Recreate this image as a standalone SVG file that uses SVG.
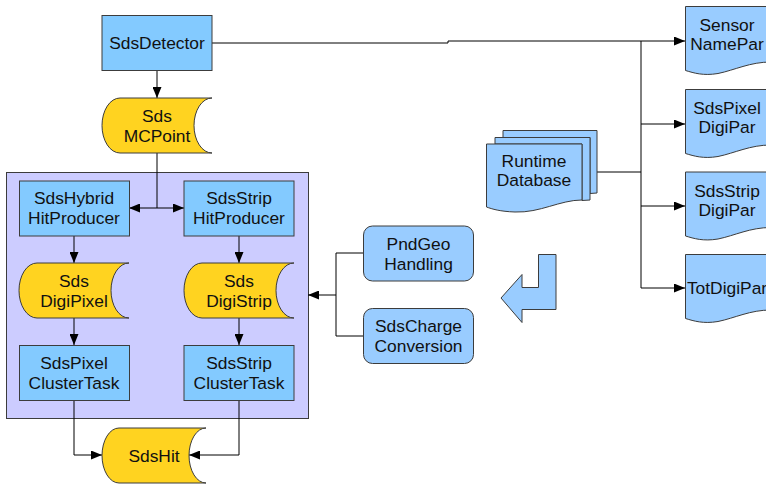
<svg xmlns="http://www.w3.org/2000/svg" width="766" height="484" viewBox="0 0 766 484">
<style>
.proc{fill:#83caff;stroke:#3c3c3c;stroke-width:1}
.data{fill:#ffd320;stroke:#3c3c3c;stroke-width:1}
.doc{fill:#99ccff;stroke:#3c3c3c;stroke-width:1}
.grp{fill:#ccccff;stroke:#3c3c3c;stroke-width:1}
.t{font-family:"Liberation Sans",Arial,sans-serif;font-size:17.4px;fill:#111;text-anchor:middle}
.c{fill:none;stroke:#000;stroke-width:1}
.a{marker-end:url(#arr)}
</style>
<defs>
<marker id="arr" markerUnits="userSpaceOnUse" markerWidth="11" markerHeight="9" refX="11" refY="4.5" orient="auto">
<path d="M0,0 L11,4.5 L0,9 Z" fill="#000"/>
</marker>
</defs>
<rect width="766" height="484" fill="#fff"/>
<g id="group-box"><rect class="grp" x="6.5" y="172.5" width="302" height="246"/></g>
<g id="connectors">
<path class="c a" d="M157,71 V98"/>
<path class="c a" d="M212,43 H448 V41 H685"/>
<path class="c" d="M597,172 H641 M641,41 V288"/>
<path class="c a" d="M641,124 H685"/>
<path class="c a" d="M641,206 H685"/>
<path class="c a" d="M641,288 H685"/>
<path class="c" d="M157,153 V208"/>
<path class="c a" d="M157,208 H129"/>
<path class="c a" d="M157,208 H184"/>
<path class="c a" d="M74,236 V263"/>
<path class="c a" d="M239,236 V263"/>
<path class="c a" d="M74,318 V345"/>
<path class="c a" d="M239,318 V345"/>
<path class="c a" d="M74,400 V455 H102"/>
<path class="c a" d="M239,400 V455 H189"/>
<path class="c" d="M363,253 H336 V336 H363"/>
<path class="c a" d="M336,295 H308"/>
</g>
<g id="SdsDetector"><rect class="proc" x="102" y="15.5" width="110" height="55"/><text class="t" x="157" y="49">SdsDetector</text></g>
<g id="SdsMCPoint"><path class="data" d="M120,98 H212 A18,27.5 0 0 0 212,153 H120 A18,27.5 0 0 1 120,98 Z"/><text class="t" x="157" y="121.5">Sds</text><text class="t" x="157" y="141.5">MCPoint</text></g>
<g id="SdsHybridHitProducer"><rect class="proc" x="19.5" y="181" width="110" height="55"/><text class="t" x="74" y="204">SdsHybrid</text><text class="t" x="74" y="224">HitProducer</text></g>
<g id="SdsStripHitProducer"><rect class="proc" x="184" y="181" width="110" height="55"/><text class="t" x="239" y="204">SdsStrip</text><text class="t" x="239" y="224">HitProducer</text></g>
<g id="SdsDigiPixel"><path class="data" d="M37,263 H129 A18,27.5 0 0 0 129,318 H37 A18,27.5 0 0 1 37,263 Z"/><text class="t" x="74" y="286.5">Sds</text><text class="t" x="74" y="306.5">DigiPixel</text></g>
<g id="SdsDigiStrip"><path class="data" d="M202,263 H294 A18,27.5 0 0 0 294,318 H202 A18,27.5 0 0 1 202,263 Z"/><text class="t" x="239" y="286.5">Sds</text><text class="t" x="239" y="306.5">DigiStrip</text></g>
<g id="SdsPixelClusterTask"><rect class="proc" x="19.5" y="345.5" width="110" height="55"/><text class="t" x="74" y="368.5">SdsPixel</text><text class="t" x="74" y="388.5">ClusterTask</text></g>
<g id="SdsStripClusterTask"><rect class="proc" x="184" y="345.5" width="110" height="55"/><text class="t" x="239" y="368.5">SdsStrip</text><text class="t" x="239" y="388.5">ClusterTask</text></g>
<g id="SdsHit"><path class="data" d="M119,428 H206 A17,27.5 0 0 0 206,483 H119 A17,27.5 0 0 1 119,428 Z"/><text class="t" x="154" y="461.5">SdsHit</text></g>
<g id="PndGeoHandling"><rect class="doc" x="363.5" y="226" width="110" height="55" rx="9"/><text class="t" x="418.5" y="249.5">PndGeo</text><text class="t" x="418.5" y="269.5">Handling</text></g>
<g id="SdsChargeConversion"><rect class="doc" x="363.5" y="308.5" width="110" height="55" rx="9"/><text class="t" x="418.5" y="331.5">SdsCharge</text><text class="t" x="418.5" y="351.5">Conversion</text></g>
<g id="bent-arrow"><path class="doc" d="M538.5,254.5 H556 V309.5 H522 V322.5 L501,298 L522,274.5 V287.5 H538.5 Z"/></g>
<g id="RuntimeDatabase">
<path class="doc" d="M503,130.5 H597 V193 L590,193.5 V137.5 H503 Z"/>
<path class="doc" d="M495,137.5 H590 V200 L582,200.5 V144 H495 Z"/>
<path class="doc" d="M486.5,144 H582 V200 C560,200 540,213 515,212 C500,211.5 492,209 486.5,207 Z"/>
<text class="t" x="534" y="167">Runtime</text><text class="t" x="534" y="186">Database</text>
</g>
<g id="SensorNamePar"><path class="doc" d="M685.5,6.5 H771 V62 C750,62 735,70 718,73.5 C703,76 694,73 685.5,70.5 Z"/><text class="t" x="727" y="31">Sensor</text><text class="t" x="727" y="50">NamePar</text></g>
<g id="SdsPixelDigiPar"><path class="doc" d="M685.5,89.5 H771 V145 C750,145 735,153 718,156.5 C703,159 694,156 685.5,153.5 Z"/><text class="t" x="727" y="114">SdsPixel</text><text class="t" x="727" y="133">DigiPar</text></g>
<g id="SdsStripDigiPar"><path class="doc" d="M685.5,172 H771 V227.5 C750,227.5 735,235.5 718,239 C703,241.5 694,238.5 685.5,236 Z"/><text class="t" x="727" y="196.5">SdsStrip</text><text class="t" x="727" y="215.5">DigiPar</text></g>
<g id="TotDigiPar"><path class="doc" d="M685.5,254.5 H771 V310 C750,310 735,318 718,321.5 C703,324 694,321 685.5,318.5 Z"/><text class="t" x="727" y="294">TotDigiPar</text></g>
</svg>
